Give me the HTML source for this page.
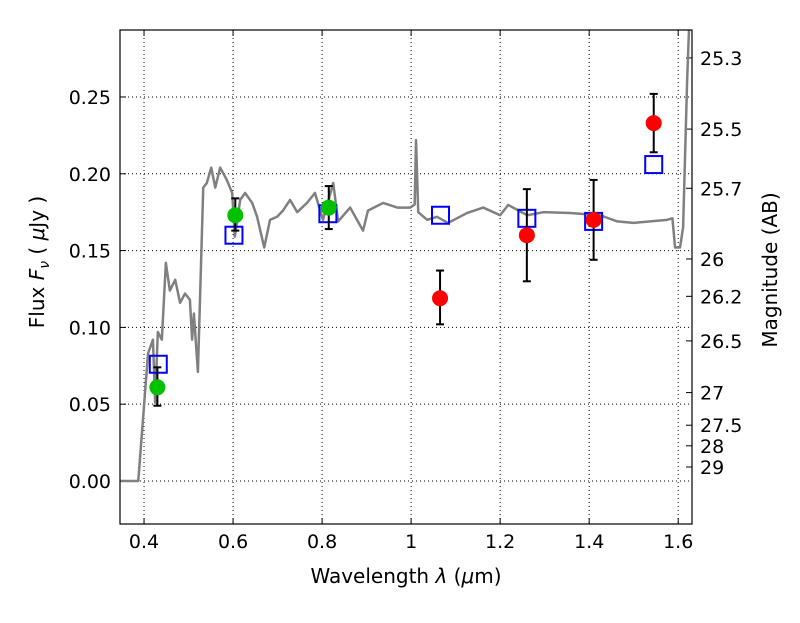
<!DOCTYPE html>
<html><head><meta charset="utf-8"><style>
body{margin:0;background:#fff;}
svg text{font-family:"DejaVu Sans","Liberation Sans",sans-serif;}
</style></head><body>
<svg id="c" width="800" height="600" viewBox="0 0 800 600"></svg>
<script>
const specWl=[0.346,0.387,0.409,0.42,0.425,0.431,0.44,0.449,0.458,0.47,0.481,0.492,0.503,0.508,0.512,0.521,0.533,0.541,0.551,0.56,0.571,0.586,0.598,0.604,0.616,0.627,0.643,0.654,0.67,0.683,0.699,0.712,0.728,0.744,0.766,0.784,0.802,0.825,0.836,0.863,0.892,0.903,0.937,0.969,0.998,1.008,1.011,1.016,1.036,1.058,1.083,1.126,1.162,1.2,1.218,1.261,1.297,1.357,1.425,1.463,1.499,1.575,1.587,1.593,1.604,1.611,1.62,1.625];
const specFlux=[0,0,0.083,0.092,0.051,0.097,0.092,0.142,0.124,0.131,0.116,0.122,0.118,0.092,0.109,0.071,0.191,0.194,0.204,0.191,0.204,0.196,0.1875,0.159,0.183,0.1875,0.181,0.172,0.152,0.17,0.172,0.176,0.183,0.175,0.181,0.1875,0.17,0.194,0.169,0.178,0.163,0.176,0.181,0.178,0.178,0.18,0.222,0.175,0.17,0.172,0.168,0.1745,0.178,0.173,0.1797,0.173,0.175,0.1745,0.173,0.169,0.168,0.17,0.171,0.152,0.152,0.165,0.26,0.30];
const greenWl=[0.43,0.605,0.815];
const greenFlux=[0.061,0.173,0.178];
const greenLo=[0.049,0.163,0.164];
const greenHi=[0.074,0.184,0.192];
const redWl=[1.065,1.26,1.41,1.545];
const redFlux=[0.119,0.160,0.170,0.233];
const redLo=[0.102,0.130,0.144,0.214];
const redHi=[0.137,0.190,0.196,0.252];
const modelWl=[0.432,0.602,0.813,1.066,1.26,1.41,1.545];
const modelFlux=[0.076,0.160,0.174,0.173,0.171,0.169,0.206];
const xTicks=[0.4,0.6,0.8,1.0,1.2,1.4,1.6];
const xTickLabels=["0.4","0.6","0.8","1","1.2","1.4","1.6"];
const yTicks=[0,0.05,0.10,0.15,0.20,0.25];
const yTickLabels=["0.00","0.05","0.10","0.15","0.20","0.25"];
const magTicks=[25.3,25.5,25.7,26,26.2,26.5,27,27.5,28,29];

const L=120,R=692,T=30,B=524,X0=0.346,X1=1.631,Y0=-0.028,Y1=0.2936;
const sx=v=>L+(v-X0)/(X1-X0)*(R-L);
const sy=v=>B-(v-Y0)/(Y1-Y0)*(B-T);
const svg=document.getElementById('c');
const NS='http://www.w3.org/2000/svg';
function mk(t,a,p){const e=document.createElementNS(NS,t);for(const k in a)e.setAttribute(k,a[k]);(p||svg).appendChild(e);return e;}
const clip=mk('clipPath',{id:'cp'});mk('rect',{x:L,y:T,width:R-L,height:B-T},clip);
// grid
xTicks.forEach((v,i)=>{
 const g=mk('line',{x1:sx(v),x2:sx(v),y1:T,y2:B,stroke:'#000','stroke-width':1,'stroke-dasharray':'1,3'});
 
 mk('line',{x1:sx(v),x2:sx(v),y1:B,y2:B-6,stroke:'#000'});mk('line',{x1:sx(v),x2:sx(v),y1:T,y2:T+6,stroke:'#000'});
 const t=mk('text',{x:sx(v),y:B+24,'font-size':19,'text-anchor':'middle'});t.textContent=xTickLabels[i];
 
});
yTicks.forEach((v,i)=>{
 const g=mk('line',{x1:L,x2:R,y1:sy(v),y2:sy(v),stroke:'#000','stroke-width':1,'stroke-dasharray':'1,3'});
 
 mk('line',{x1:L,x2:L+6,y1:sy(v),y2:sy(v),stroke:'#000'});
 const t=mk('text',{x:L-9,y:sy(v)+7,'font-size':19,'text-anchor':'end'});t.textContent=yTickLabels[i];
 
});
magTicks.forEach(m=>{
 const f=Math.pow(10,(23.9-m)/2.5);const y=sy(f);
 mk('line',{x1:R,x2:R-6,y1:y,y2:y,stroke:'#000'});
 const t=mk('text',{x:R+8,y:y+7,'font-size':19});t.textContent=String(m);
 
});
// spectrum
const g=mk('g',{'clip-path':'url(#cp)'});
const sp=mk('polyline',{points:specWl.map((w,i)=>sx(w)+','+sy(specFlux[i])).join(' '),fill:'none',stroke:'#808080','stroke-width':2.5,'stroke-linejoin':'round'},g);

// model squares
modelWl.forEach((w,i)=>{
 const r=mk('rect',{x:sx(w)-8.5,y:sy(modelFlux[i])-8.5,width:17,height:17,fill:'none',stroke:'#0000ff','stroke-width':2},g);
 
});
function pts(ws,fs,lo,hi,col,name){
 ws.forEach((w,i)=>{
  const x=sx(w);
  mk('line',{x1:x,x2:x,y1:sy(lo[i]),y2:sy(hi[i]),stroke:'#000','stroke-width':2},g);
  mk('line',{x1:x-4,x2:x+4,y1:sy(lo[i]),y2:sy(lo[i]),stroke:'#000','stroke-width':2},g);
  mk('line',{x1:x-4,x2:x+4,y1:sy(hi[i]),y2:sy(hi[i]),stroke:'#000','stroke-width':2},g);
  const c=mk('circle',{cx:x,cy:sy(fs[i]),r:8,fill:col},g);
  
 });
}
pts(greenWl,greenFlux,greenLo,greenHi,'#00c000','green-photometry-point');
pts(redWl,redFlux,redLo,redHi,'#ff0000','red-photometry-point');
const fr=mk('rect',{x:L,y:T,width:R-L,height:B-T,fill:'none',stroke:'#000','stroke-width':1.2});

</script>
<svg width="0" height="0"></svg>
<div style="position:absolute;left:0;top:0;width:800px;height:600px;pointer-events:none">
<svg width="800" height="600" style="position:absolute;left:0;top:0">
<text x="406" y="583" font-size="20" text-anchor="middle" font-family="DejaVu Sans, Liberation Sans, sans-serif">Wavelength  <tspan font-style="italic">λ</tspan> (<tspan font-style="italic">μ</tspan>m)</text>
<text transform="translate(44,262) rotate(-90)" font-size="20" text-anchor="middle" font-family="DejaVu Sans, Liberation Sans, sans-serif">Flux  <tspan font-style="italic">F</tspan><tspan font-style="italic" font-size="14" dy="5">ν</tspan><tspan dy="-5">  ( </tspan><tspan font-style="italic">μ</tspan>Jy )</text>
<text transform="translate(777,270) rotate(-90)" font-size="20" text-anchor="middle" font-family="DejaVu Sans, Liberation Sans, sans-serif">Magnitude (AB)</text>
</svg></div>
</body></html>
